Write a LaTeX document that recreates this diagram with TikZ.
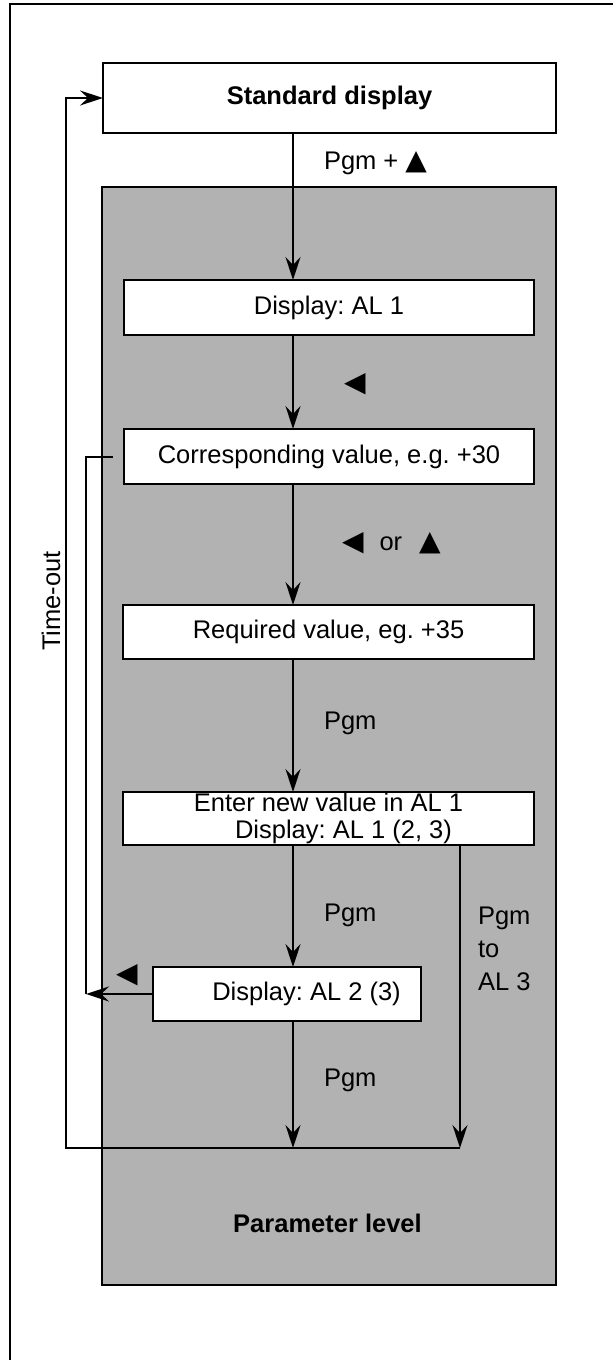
\documentclass[tikz,border=0pt]{standalone}
\usepackage{fontspec}
\setmainfont{Liberation Sans}
\newfontfamily\symfont{DejaVu Sans}
\usetikzlibrary{arrows.meta}
\newcommand\myfs{\fontsize{25.5}{27}\selectfont}
\newcommand\mysym{\fontsize{28}{28}\selectfont\symfont}
\frenchspacing
\begin{document}
\begin{tikzpicture}[x=1pt,y=-1pt,
  every node/.style={font=\myfs, inner sep=0pt, outer sep=0pt},
  box/.style={draw, line width=2pt, fill=white, align=center},
  conn/.style={line width=2pt},
  arr/.style={conn, -{Stealth[length=23pt,width=15pt,inset=8pt]}},
  lab/.style={anchor=west},
  boldtxt/.style={font=\myfs\bfseries}]
\useasboundingbox (0,0) rectangle (613,1360);
\fill[white] (0,0) rectangle (613,1360);
% outer frame (cropped)
\draw[line width=2.2pt] (10,1360) -- (10,4) -- (613,4);
% parameter level area
\node[draw, line width=1.8pt, fill=black!30, minimum width=454pt, minimum height=1098pt, anchor=north west] (level) at (102,187) {};
% boxes
\node[box, boldtxt, minimum width=453pt, minimum height=70pt] (sd) at (329.5,98) {Standard display};
\node[box, minimum width=410pt, minimum height=55pt] (al1) at (329,307.5) {Display: AL 1};
\node[box, minimum width=410pt, minimum height=55pt] (corr) at (329,456.5) {Corresponding value, e.g. +30};
\node[box, minimum width=411pt, minimum height=54pt] (req) at (328.5,632) {Required value, eg. +35};
\node[box, minimum width=411pt, minimum height=53pt] (enter) at (328.5,818.5) {Enter new value in AL 1\\\hspace*{30pt}Display: AL 1 (2, 3)};
\node[box, minimum width=268pt, minimum height=54pt] (al2) at (287,994) {\hspace*{39pt}Display: AL 2 (3)};
% helper coordinates
\coordinate (cx) at (293,0);
\coordinate (rx) at (460,0);
\coordinate (ilx) at (86,0);
\coordinate (bc) at (293,1148);
\coordinate (br) at (460,1148);
\coordinate (bl) at (66,1148);
% main flow
\draw[arr] (sd.south -| cx) -- (al1.north -| cx);
\draw[arr] (al1.south -| cx) -- (corr.north -| cx);
\draw[arr] (corr.south -| cx) -- (req.north -| cx);
\draw[arr] (req.south -| cx) -- (enter.north -| cx);
\draw[arr] (enter.south -| cx) -- (al2.north -| cx);
\draw[arr] (al2.south -| cx) -- (bc);
\draw[arr] (enter.south -| rx) -- (br);
% time-out loop
\draw[arr] (br) -- (bl) |- (sd.west);
% inner loop
\draw[arr] (al2.west) -- (al2.west -| ilx);
\draw[conn] (al2.west -| ilx) |- ([xshift=-11pt]corr.west);
% labels
\node[lab] (l0) at (324,163) {Pgm + {\mysym ▲}};
\node (l1) at (355,384) {\mysym ◀};
\node[lab] (l2) at (342,543) {{\mysym ◀}\hspace{16pt}or\hspace{17pt}{\mysym ▲}};
\node[lab] (l3) at (324,723) {Pgm};
\node[lab] (l4) at (324,915) {Pgm};
\node[lab, align=left, font=\fontsize{25.5}{33}\selectfont] (l5) at (478,949) {Pgm\\to\\AL 3};
\node[lab] (l6) at (324,1080) {Pgm};
\node (l7) at (127,975) {\mysym ◀};
\node[boldtxt] (l8) at (327.5,1223) {Parameter level};
\node[rotate=90] (l9) at (51,601) {Time-out};
\end{tikzpicture}
\end{document}
